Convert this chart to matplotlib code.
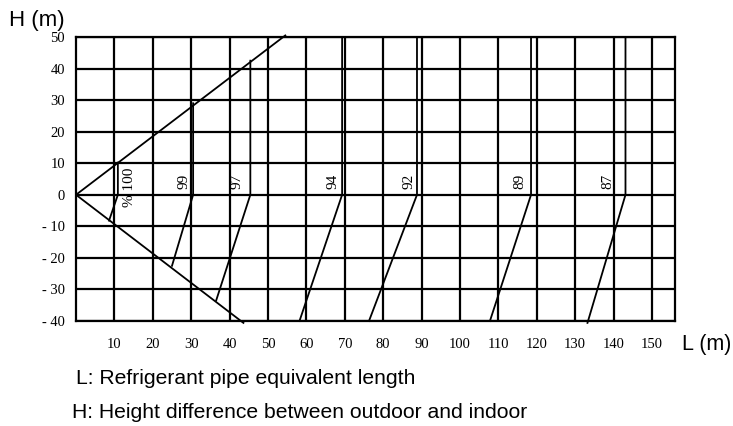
import matplotlib
matplotlib.use("Agg")
import matplotlib.pyplot as plt

# axis ticks
l_ticks = [10, 20, 30, 40, 50, 60, 70, 80, 90, 100, 110, 120, 130, 140, 150]
h_ticks = [50, 40, 30, 20, 10, 0, -10, -20, -30, -40]
h_tick_labels = ["50", "40", "30", "20", "10", "0", "- 10", "- 20", "- 30", "- 40"]

# outer boundary (upper and lower diagonal)
boundary_L = [54.5, 0, 43.6]
boundary_H = [50.5, 0, -40.6]

# capacity correction curves: vertical part from top down to H=0, then slanted down
curve_labels = ["% 100", "99", "97", "94", "92", "89", "87"]
curve_top_L = [10.9, 30.5, 45.4, 69.3, 88.8, 118.5, 143.1]
curve_top_H = [10.2, 29.0, 42.5, 50, 50, 50, 50]
curve_bot_L = [8.6, 25.0, 36.5, 58.2, 76.3, 107.8, 133.2]
curve_bot_H = [-8.2, -22.5, -33.5, -40, -40, -40, -40.6]
label_L = [13.8, 28.2, 42.0, 67.0, 86.7, 115.7, 138.4]
label_H = [2.5, 4.2, 4.2, 4.2, 4.2, 4.2, 4.2]

fig = plt.figure(figsize=(7.33, 4.26), dpi=100)
ax = fig.add_axes([0.1037, 0.2465, 0.8172, 0.6666])
ax.set_xlim(0, 156)
ax.set_ylim(-40, 50)

for x in l_ticks:
    ax.axvline(x, color="black", lw=1.6)
for y in h_ticks:
    ax.axhline(y, color="black", lw=1.6)
for s in ax.spines.values():
    s.set_linewidth(1.6)

ax.plot(boundary_L, boundary_H, color="black", lw=1.3, clip_on=False)

for i in range(len(curve_labels)):
    ax.plot([curve_top_L[i], curve_top_L[i], curve_bot_L[i]],
            [curve_top_H[i], 0, curve_bot_H[i]],
            color="black", lw=1.3, clip_on=False)
    ax.text(label_L[i], label_H[i], curve_labels[i], rotation=90,
            ha="center", va="center", fontsize=11, family="Liberation Serif")

ax.set_xticks(l_ticks)
ax.set_xticklabels([str(v) for v in l_ticks], family="Liberation Serif", fontsize=10.5)
ax.set_yticks(h_ticks)
ax.set_yticklabels(h_tick_labels, family="Liberation Serif", fontsize=10.5)
ax.tick_params(axis="x", length=0, pad=12)
ax.tick_params(axis="y", length=0, pad=8)

fig.text(0.012, 0.953, "H (m)", family="Liberation Sans", fontsize=16, va="center")
fig.text(0.931, 0.192, "L (m)", family="Liberation Sans", fontsize=15.5, va="center")
fig.text(0.104, 0.112, "L: Refrigerant pipe equivalent length",
         family="Liberation Sans", fontsize=15.2, va="center")
fig.text(0.098, 0.031, "H: Height difference between outdoor and indoor",
         family="Liberation Sans", fontsize=15.2, va="center")

fig.savefig("out.png", dpi=100)
